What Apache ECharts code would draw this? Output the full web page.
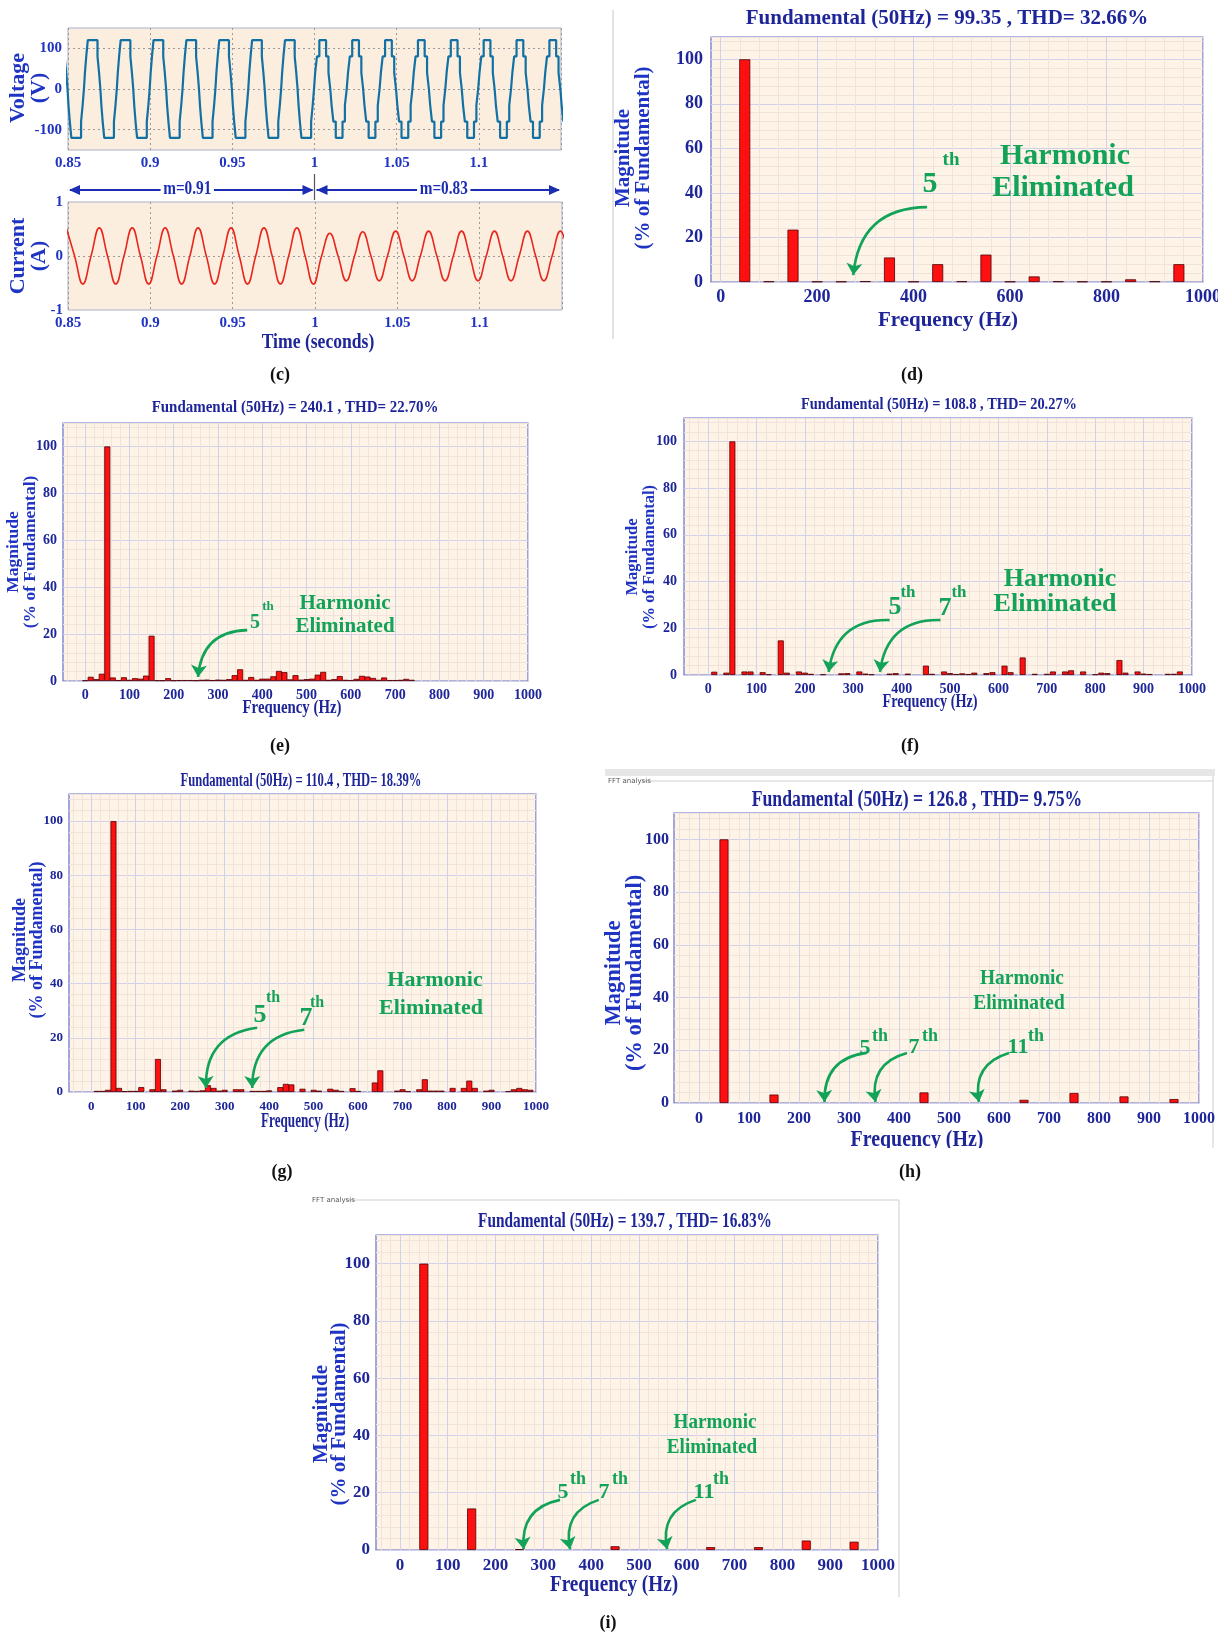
<!DOCTYPE html>
<html>
<head>
<meta charset="utf-8">
<script src="https://cdn.jsdelivr.net/npm/echarts@6/dist/echarts.min.js"></script>
<style>
html, body { margin: 0; padding: 0; background: #fff; }
#main { width: 1218px; height: 1635px; }
</style>
</head>
<body>
<div id="main"></div>
<script>
// ---------- data ----------

// (c) multilevel voltage: step levels (V) and switching instants after each zero crossing (s)
const vLevels = [40, 80, 120];
const vSwitchM091 = [0.0003, 0.0011, 0.00205];
const vSwitchM083 = [0.0004, 0.0015, 0.00295];
const vCycleStarts = [0.84, 0.86, 0.88, 0.90, 0.92, 0.94, 0.96, 0.98, 1.00, 1.02, 1.04, 1.06, 1.08, 1.10, 1.12, 1.14];

// (c) load current: extrema and zero crossings [t, A]
const currentPts = [
  [0.849, 0.52], [0.854, 0], [0.859, -0.52], [0.864, 0], [0.869, 0.52], [0.874, 0], [0.879, -0.52], [0.884, 0],
  [0.889, 0.52], [0.894, 0], [0.899, -0.52], [0.904, 0], [0.909, 0.52], [0.914, 0], [0.919, -0.52], [0.924, 0],
  [0.929, 0.52], [0.934, 0], [0.939, -0.52], [0.944, 0], [0.949, 0.52], [0.954, 0], [0.959, -0.52], [0.964, 0],
  [0.969, 0.52], [0.974, 0], [0.979, -0.52], [0.984, 0], [0.989, 0.52], [0.994, 0], [0.999, -0.52], [1.004, 0],
  [1.009, 0.42], [1.014, 0], [1.019, -0.46], [1.024, 0], [1.029, 0.45], [1.034, 0], [1.039, -0.46], [1.044, 0],
  [1.049, 0.46], [1.054, 0], [1.059, -0.46], [1.064, 0], [1.069, 0.46], [1.074, 0], [1.079, -0.46], [1.084, 0],
  [1.089, 0.46], [1.094, 0], [1.099, -0.46], [1.104, 0], [1.109, 0.46], [1.114, 0], [1.119, -0.46], [1.124, 0],
  [1.129, 0.46], [1.134, 0], [1.139, -0.46], [1.144, 0], [1.149, 0.46], [1.154, 0]
];

// FFT spectra [frequency Hz, % of fundamental]
const dSpectrum = [[50, 100], [100, 0.3], [150, 23.5], [200, 0.2], [250, 0.2], [300, 0.4], [350, 11], [400, 0.2],
  [450, 8], [500, 0.3], [550, 12.3], [600, 0.2], [650, 2.5], [700, 0.3], [750, 0.2], [800, 0.2], [850, 1.2], [900, 0.3], [950, 8]];

const eSpectrum = [[0, 0.3], [12.5, 1.8], [25, 0.8], [37.5, 3.1], [50, 100], [62.5, 1.5], [75, 0.4], [87.5, 1.6], [100, 0.5],
  [112.5, 1.2], [125, 1.0], [137.5, 2.3], [150, 19.3], [162.5, 0.3], [175, 0.3], [187.5, 1.2], [200, 0.3], [212.5, 0.4],
  [225, 0.4], [237.5, 0.4], [250, 0.3], [262.5, 0.5], [275, 0.6], [287.5, 0.4], [300, 0.6], [312.5, 0.5], [325, 0.8],
  [337.5, 2.5], [350, 5.0], [362.5, 0.5], [375, 1.7], [387.5, 0.5], [400, 1.0], [412.5, 1.0], [425, 2.0], [437.5, 4.3],
  [450, 3.8], [462.5, 0.7], [475, 2.5], [487.5, 0.6], [500, 0.8], [512.5, 1.0], [525, 2.7], [537.5, 3.9], [550, 0.5],
  [562.5, 0.8], [575, 2.1], [587.5, 0.5], [600, 0.4], [612.5, 0.9], [625, 2.2], [637.5, 1.9], [650, 1.3], [662.5, 0.5],
  [675, 1.5], [687.5, 0.4], [700, 0.4], [712.5, 0.5], [725, 0.9], [737.5, 0.5]];

const fSpectrum = [[12.5, 1.4], [37.5, 1.0], [50, 100], [75, 1.5], [87.5, 1.5], [112.5, 1.2], [125, 0.3], [150, 14.8],
  [162.5, 1.0], [187.5, 1.5], [200, 1.0], [212.5, 0.5], [237.5, 0.3], [275, 0.7], [287.5, 0.8], [312.5, 1.5], [325, 0.6],
  [337.5, 0.3], [375, 0.6], [387.5, 0.8], [412.5, 0.6], [450, 4.0], [462.5, 0.5], [487.5, 1.5], [500, 0.8], [512.5, 0.4],
  [525, 0.7], [537.5, 0.4], [550, 1.0], [575, 0.8], [587.5, 1.2], [612.5, 4.0], [625, 1.2], [650, 7.5], [675, 0.5],
  [700, 0.5], [712.5, 1.5], [737.5, 1.5], [750, 2.0], [775, 1.5], [800, 0.3], [812.5, 1.0], [825, 0.8], [850, 6.4],
  [862.5, 1.0], [887.5, 1.5], [900, 0.6], [912.5, 0.4], [950, 0.5], [962.5, 0.5], [975, 1.5]];

const gSpectrum = [[12.5, 0.4], [25, 0.4], [37.5, 0.8], [50, 100], [62.5, 1.5], [75, 0.3], [87.5, 0.4], [100, 0.4],
  [112.5, 1.8], [137.5, 1.0], [150, 12.2], [162.5, 1.0], [187.5, 0.5], [200, 0.8], [225, 0.5], [237.5, 0.4], [250, 0.6],
  [262.5, 2.5], [275, 1.5], [287.5, 0.5], [300, 0.8], [325, 1.0], [337.5, 1.0], [362.5, 0.4], [375, 0.4], [387.5, 0.4],
  [400, 0.6], [425, 1.8], [437.5, 3.0], [450, 2.8], [475, 1.2], [500, 0.8], [512.5, 0.5], [537.5, 1.2], [550, 0.8],
  [562.5, 0.4], [587.5, 1.4], [600, 0.4], [637.5, 3.5], [650, 8.0], [687.5, 0.5], [700, 1.0], [712.5, 0.3], [737.5, 1.0],
  [750, 4.7], [762.5, 0.5], [775, 0.5], [787.5, 0.5], [812.5, 1.5], [837.5, 1.5], [850, 4.2], [862.5, 1.5], [887.5, 0.5],
  [900, 0.8], [937.5, 0.3], [950, 1.0], [962.5, 1.5], [975, 1.0], [987.5, 0.8]];

const hSpectrum = [[50, 100], [150, 3.2], [450, 4.0], [650, 1.2], [750, 3.8], [850, 2.5], [950, 1.5]];
const iSpectrum = [[50, 100], [150, 14.5], [250, 0.3], [450, 1.3], [650, 1.0], [750, 1.0], [850, 3.3], [950, 2.9]];

const titles = {
  d: 'Fundamental (50Hz) = 99.35 , THD= 32.66%',
  e: 'Fundamental (50Hz) = 240.1 , THD= 22.70%',
  f: 'Fundamental (50Hz) = 108.8 , THD= 20.27%',
  g: 'Fundamental (50Hz) = 110.4 , THD= 18.39%',
  h: 'Fundamental (50Hz) = 126.8 , THD= 9.75%',
  i: 'Fundamental (50Hz) = 139.7 , THD= 16.83%'
};

// ---------- styles ----------
const SERIF = '"Liberation Serif", "Times New Roman", serif';
const NAVY = '#1d2598';
const BLUE = '#1f34c2';
const GREEN = '#12a358';
const PLOT_BG = '#fdf3e7';
const MAJOR = '#d3d1ea';
const MINOR = '#f1e2dc';
const FRAME = '#6570c8';

// staircase voltage built from the read switching instants
function halfWave(s, a, sign) {
  const out = [];
  let prev = 0;
  for (let k = 0; k < 3; k++) {
    out.push([s + a[k], sign * prev], [s + a[k], sign * vLevels[k]]);
    prev = vLevels[k];
  }
  for (let k = 2; k >= 0; k--) {
    out.push([s + 0.01 - a[k], sign * vLevels[k]], [s + 0.01 - a[k], sign * (k ? vLevels[k - 1] : 0)]);
  }
  return out;
}
const voltagePts = [];
vCycleStarts.forEach(s => {
  const a = s < 0.9999 ? vSwitchM091 : vSwitchM083;
  voltagePts.push(...halfWave(s, a, 1), ...halfWave(s + 0.01, a, -1));
});

// panel layout (pixels)
const fftPanels = [
  { key: 'd', box: [711, 37, 1203, 282], xMin: -20, step: 200, minor: 40, data: dSpectrum, barW: 11, fs: 18, xm: 6, ym: 8 },
  { key: 'e', box: [63, 423, 528, 681], xMin: -50, step: 100, minor: 20, data: eSpectrum, barW: 6, fs: 14, xm: 7, ym: 6 },
  { key: 'f', box: [684, 418, 1192, 675], xMin: -50, step: 100, minor: 20, data: fSpectrum, barW: 6, fs: 14, xm: 7, ym: 7 },
  { key: 'g', box: [69, 794, 536, 1092], xMin: -50, step: 100, minor: 20, data: gSpectrum, barW: 6, fs: 13, xm: 8, ym: 6 },
  { key: 'h', box: [674, 813, 1199, 1103], xMin: -50, step: 100, minor: 20, data: hSpectrum, barW: 9, fs: 16, xm: 8, ym: 5 },
  { key: 'i', box: [376, 1235, 878, 1550], xMin: -50, step: 100, minor: 20, data: iSpectrum, barW: 9, fs: 17, xm: 7, ym: 6 }
];

// arrows in data coordinates [Hz, %]
const arrows = {
  d: [[[428, 33.6], [275, 3.1]]],
  e: [[[366, 21.7], [255, 1.7]]],
  f: [[[375, 23.5], [249, 1.3]], [[480, 23.5], [355, 1.3]]],
  g: [[[373, 23.7], [258, 1.5]], [[479, 23], [362, 1.5]]],
  h: [[[335, 19], [251, 0.4]], [[416, 19], [353, 0.4]], [[620, 19], [560, 0.4]]],
  i: [[[335, 17.5], [259, 0.3]], [[416, 17.5], [356, 0.3]], [[619, 17.5], [559, 0.3]]]
};

const grids = [];
const xAxes = [];
const yAxes = [];
const series = [];

function gridOf(b) {
  return { left: b[0], top: b[1], width: b[2] - b[0], height: b[3] - b[1], show: true,
    backgroundColor: PLOT_BG, borderColor: FRAME, borderWidth: 1.2, containLabel: false, outerBoundsMode: 'none' };
}

// (c) voltage and current
grids.push({ left: 68, top: 28, width: 493, height: 122, show: true, backgroundColor: '#fbeedf',
  borderColor: '#a9b1cc', borderWidth: 1, containLabel: false, outerBoundsMode: 'none' });
grids.push({ left: 68, top: 202, width: 494, height: 108, show: true, backgroundColor: '#fbeedf',
  borderColor: '#a9b1cc', borderWidth: 1, containLabel: false, outerBoundsMode: 'none' });

const cLabel = { fontFamily: SERIF, fontWeight: 'bold', fontSize: 15, color: BLUE, margin: 6 };
const dotted = c => ({ show: true, lineStyle: { color: c, type: [2, 3], width: 1 } });
[0, 1].forEach(gi => {
  xAxes.push({ gridIndex: gi, type: 'value', min: 0.85, max: 1.15, interval: 0.05,
    axisLine: { show: false }, axisTick: { show: false },
    axisLabel: Object.assign({}, cLabel, { formatter: v => v > 1.14 ? '' : String(+v.toFixed(2)) }),
    splitLine: dotted(['#9a9a9a']) });
});
yAxes.push({ gridIndex: 0, type: 'value', min: -150, max: 150, interval: 50,
  axisLine: { show: false }, axisTick: { show: false },
  axisLabel: Object.assign({}, cLabel, { formatter: v => Math.abs(v) % 100 === 0 ? String(v) : '' }),
  splitLine: dotted(['transparent', '#9a9a9a']) });
yAxes.push({ gridIndex: 1, type: 'value', min: -1, max: 1, interval: 1,
  axisLine: { show: false }, axisTick: { show: false },
  axisLabel: Object.assign({}, cLabel, { margin: 5 }),
  splitLine: dotted(['transparent', '#9a9a9a', 'transparent']) });

series.push({ type: 'line', xAxisIndex: 0, yAxisIndex: 0, data: voltagePts, showSymbol: false,
  lineStyle: { color: '#1271a4', width: 2.2 }, clip: true, animation: false });
series.push({ type: 'line', xAxisIndex: 1, yAxisIndex: 1, data: currentPts, showSymbol: false, smooth: 0.45,
  lineStyle: { color: '#e8261c', width: 1.6 }, clip: true, animation: false });

// FFT panels
fftPanels.forEach((p, n) => {
  const gi = n + 2;
  grids.push(gridOf(p.box));
  const xCols = [];
  for (let i = 0; i < p.step / 10; i++) {
    const v = p.xMin + 10 * i;
    xCols.push(v % p.step === 0 ? MAJOR : (v % p.minor === 0 ? MINOR : 'transparent'));
  }
  const lab = { fontFamily: SERIF, fontWeight: 'bold', fontSize: p.fs, color: NAVY };
  xAxes.push({ gridIndex: gi, type: 'value', min: p.xMin, max: 1000, interval: 10,
    axisLine: { show: false }, axisTick: { show: false },
    axisLabel: Object.assign({}, lab, { margin: p.xm, formatter: v => (v >= 0 && Math.round(v) % p.step === 0) ? String(Math.round(v)) : '' }),
    splitLine: { show: true, lineStyle: { color: xCols, width: 1 } } });
  yAxes.push({ gridIndex: gi, type: 'value', min: 0, max: 110, interval: 4,
    axisLine: { show: false }, axisTick: { show: false },
    axisLabel: Object.assign({}, lab, { margin: p.ym, formatter: v => (Math.round(v) % 20 === 0 && v <= 100) ? String(Math.round(v)) : '' }),
    splitLine: { show: true, lineStyle: { color: [MAJOR, MINOR, MINOR, MINOR, MINOR], width: 1 } } });
  series.push({ type: 'bar', xAxisIndex: gi, yAxisIndex: gi, data: p.data, barWidth: p.barW,
    itemStyle: { color: '#ff1010', borderColor: '#520000', borderWidth: 0.8 }, animation: false, z: 3 });
  series.push({ type: 'lines', coordinateSystem: 'cartesian2d', xAxisIndex: gi, yAxisIndex: gi,
    data: arrows[p.key].map(c => ({ coords: c })), symbol: ['none', 'arrow'], symbolSize: [0, 12],
    lineStyle: { color: GREEN, width: 2.6, curveness: -0.45, opacity: 1 }, silent: true, animation: false, z: 5 });
});

const chart = echarts.init(document.getElementById('main'), null, { renderer: 'canvas' });
chart.setOption({ animation: false, backgroundColor: '#ffffff', grid: grids, xAxis: xAxes, yAxis: yAxes, series: series });

// ---------- text overlays ----------
function T(x, y, text, fs, fill, o) {
  o = o || {};
  return { type: 'text', x: x, y: y, rotation: o.rot || 0, scaleX: o.sx || 1, z: 100,
    style: { text: text, fontSize: fs, fontWeight: o.w || 'bold', fontFamily: o.ff || SERIF, fill: fill,
      align: o.align || 'center', verticalAlign: 'middle', backgroundColor: o.bg, padding: o.pad } };
}
const R = Math.PI / 2;
const g = [];

// (c) labels
g.push(T(18, 88, 'Voltage', 22, BLUE, { rot: R }), T(39, 88, '(V)', 22, BLUE, { rot: R }));
g.push(T(18, 256, 'Current', 22, BLUE, { rot: R }), T(39, 256, '(A)', 22, BLUE, { rot: R }));
g.push(T(318, 342, 'Time (seconds)', 22, NAVY, { sx: 0.8 }));

// m = 0.91 / 0.83 double arrows
const pA = chart.convertToPixel({ gridIndex: 0 }, [0.85, 0])[0];
const pB = chart.convertToPixel({ gridIndex: 0 }, [1.0, 0])[0];
const pC = chart.convertToPixel({ gridIndex: 0 }, [1.15, 0])[0];
const ay = 190, AC = '#1b2db4';
function head(x, dir) {
  return { type: 'polygon', z: 90, shape: { points: [[x, ay], [x - dir * 11, ay - 5], [x - dir * 11, ay + 5]] }, style: { fill: AC } };
}
g.push({ type: 'line', z: 80, shape: { x1: pA + 2, y1: ay, x2: pB - 2, y2: ay }, style: { stroke: AC, lineWidth: 2 } });
g.push({ type: 'line', z: 80, shape: { x1: pB + 2, y1: ay, x2: pC - 2, y2: ay }, style: { stroke: AC, lineWidth: 2 } });
g.push(head(pA + 1, -1), head(pB - 1, 1), head(pB + 2, -1), head(pC - 1, 1));
g.push({ type: 'line', z: 80, shape: { x1: pB, y1: 174, x2: pB, y2: 200 }, style: { stroke: '#555', lineWidth: 1.2 } });
g.push(T((pA + pB) / 2 - 4, ay - 1, 'm=0.91', 18, AC, { sx: 0.85, bg: '#fff', pad: [0, 3] }));
g.push(T((pB + pC) / 2 + 6, ay - 1, 'm=0.83', 18, AC, { sx: 0.85, bg: '#fff', pad: [0, 3] }));

// panel titles
g.push(T(947, 19, titles.d, 21, NAVY));
g.push(T(295, 408, titles.e, 17, NAVY, { sx: 0.88 }));
g.push(T(939, 405, titles.f, 16, NAVY, { sx: 0.9 }));
g.push(T(301, 781, titles.g, 18, NAVY, { sx: 0.7 }));
g.push(T(917, 800, titles.h, 23, NAVY, { sx: 0.77 }));
g.push(T(625, 1222, titles.i, 21, NAVY, { sx: 0.73 }));

// y-axis names [x Magnitude, x (%...), y centre, font]
const yNames = [[624, 644, 158, 21], [13, 30, 552, 17.5], [633, 650, 557, 16.5], [20, 37, 940, 18], [614, 635, 973, 22.5], [322, 340, 1414, 21]];
yNames.forEach(n => {
  g.push(T(n[0], n[2], 'Magnitude', n[3], BLUE, { rot: R }));
  g.push(T(n[1], n[2], '(% of Fundamental)', n[3], BLUE, { rot: R }));
});

// x-axis names
g.push(T(948, 321, 'Frequency (Hz)', 21, NAVY));
g.push(T(292, 708, 'Frequency (Hz)', 19, NAVY, { sx: 0.78 }));
g.push(T(930, 702, 'Frequency (Hz)', 19, NAVY, { sx: 0.75 }));
g.push(T(305, 1122, 'Frequency (Hz)', 20, NAVY, { sx: 0.66 }));
g.push(T(917, 1140, 'Frequency (Hz)', 24, NAVY, { sx: 0.83 }));
g.push(T(614, 1585, 'Frequency (Hz)', 24, NAVY, { sx: 0.8 }));

// "Harmonic Eliminated" notes and harmonic orders
g.push(T(1065, 156, 'Harmonic', 30, GREEN), T(1063, 188, 'Eliminated', 30, GREEN));
g.push(T(930, 184, '5', 30, GREEN), T(951, 160, 'th', 19, GREEN));
g.push(T(345, 604, 'Harmonic', 21, GREEN), T(345, 627, 'Eliminated', 21, GREEN));
g.push(T(255, 623, '5', 20, GREEN), T(268, 607, 'th', 13, GREEN));
g.push(T(1060, 579, 'Harmonic', 26, GREEN), T(1055, 604, 'Eliminated', 26, GREEN));
g.push(T(895, 607, '5', 26, GREEN), T(908, 593, 'th', 17, GREEN), T(945, 608, '7', 26, GREEN), T(959, 593, 'th', 17, GREEN));
g.push(T(435, 980, 'Harmonic', 22, GREEN), T(431, 1008, 'Eliminated', 22, GREEN));
g.push(T(260, 1015, '5', 26, GREEN), T(273, 998, 'th', 16, GREEN), T(306, 1018, '7', 26, GREEN), T(317, 1003, 'th', 16, GREEN));
g.push(T(1022, 978, 'Harmonic', 22, GREEN, { sx: 0.88 }), T(1019, 1003, 'Eliminated', 22, GREEN, { sx: 0.88 }));
g.push(T(865, 1048, '5', 22, GREEN), T(880, 1036, 'th', 18, GREEN), T(914, 1047, '7', 22, GREEN), T(930, 1036, 'th', 18, GREEN),
  T(1018, 1047, '11', 22, GREEN), T(1036, 1036, 'th', 18, GREEN));
g.push(T(715, 1422, 'Harmonic', 22, GREEN, { sx: 0.87 }), T(712, 1447, 'Eliminated', 22, GREEN, { sx: 0.87 }));
g.push(T(563, 1492, '5', 22, GREEN), T(578, 1479, 'th', 18, GREEN), T(604, 1492, '7', 22, GREEN), T(620, 1479, 'th', 18, GREEN),
  T(704, 1492, '11', 22, GREEN), T(721, 1479, 'th', 18, GREEN));

// sub-figure letters
[['(c)', 280, 375], ['(d)', 912, 375], ['(e)', 280, 746], ['(f)', 910, 746], ['(g)', 282, 1172], ['(h)', 910, 1172], ['(i)', 608, 1623]]
  .forEach(l => g.push(T(l[1], l[2], l[0], 18, '#111')));

// screenshot window frames
g.push({ type: 'line', shape: { x1: 613, y1: 10, x2: 613, y2: 339 }, style: { stroke: '#c8c8c8', lineWidth: 1 } });
g.push({ type: 'rect', shape: { x: 605, y: 769, width: 610, height: 7 }, style: { fill: '#e6e6e6' } });
g.push(T(608, 781, 'FFT analysis', 7, '#555', { align: 'left', w: 'normal', ff: 'DejaVu Sans' }));
g.push({ type: 'line', shape: { x1: 642, y1: 781, x2: 1213, y2: 781 }, style: { stroke: '#cfcfcf', lineWidth: 1 } });
g.push({ type: 'line', shape: { x1: 1213, y1: 776, x2: 1213, y2: 1150 }, style: { stroke: '#cfcfcf', lineWidth: 1 } });
// bottom of the (h) screenshot is cropped
g.push({ type: 'rect', z: 150, shape: { x: 606, y: 1148, width: 612, height: 12 }, style: { fill: '#ffffff' } });
g.push(T(312, 1200, 'FFT analysis', 7, '#555', { align: 'left', w: 'normal', ff: 'DejaVu Sans' }));
g.push({ type: 'line', shape: { x1: 346, y1: 1200, x2: 899, y2: 1200 }, style: { stroke: '#cfcfcf', lineWidth: 1 } });
g.push({ type: 'line', shape: { x1: 899, y1: 1200, x2: 899, y2: 1597 }, style: { stroke: '#cfcfcf', lineWidth: 1 } });

chart.setOption({ graphic: g });
</script>
</body>
</html>
